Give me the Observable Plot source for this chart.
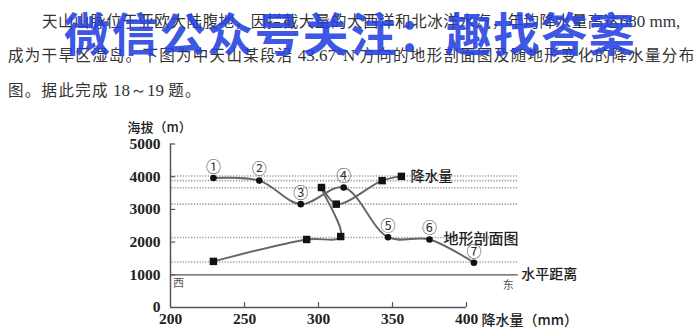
<!DOCTYPE html>
<html><head><meta charset="utf-8">
<script src="https://cdn.jsdelivr.net/npm/d3@7"></script>
<script src="https://cdn.jsdelivr.net/npm/@observablehq/plot@0.6"></script>
<style>
body{margin:0;background:#fff;width:700px;height:329px;overflow:hidden}
#text{position:relative;height:110px;font-family:"Noto Sans CJK SC";color:#333}
.ln{position:absolute;font-size:15.5px;letter-spacing:1.3px;white-space:nowrap;line-height:20px}
.lat{font-family:"Liberation Serif";font-size:17px;letter-spacing:0}
#wm{position:absolute;left:64px;top:4px;font-size:46px;font-weight:700;color:rgba(35,65,225,0.9);letter-spacing:1.7px;white-space:nowrap;line-height:54px}
#chart{height:219px}
</style></head><body>
<div id="text">
 <div class="ln" style="left:42px;top:10px;letter-spacing:0.55px">天山山脉位于亚欧大陆腹地，因拦截大量的大西洋和北冰洋水汽，年均降水量高达<span class="lat">680 mm,</span></div>
 <div class="ln" style="left:8px;top:44px">成为干旱区湿岛。下图为中天山某段沿<span class="lat"> 43.67°N </span>方向的地形剖面图及随地形变化的降水量分布</div>
 <div class="ln" style="left:8px;top:79px">图。据此完成<span class="lat"> 18～19 </span>题。</div>
 <div id="wm">微信公众号关注：趣找答案</div>
</div>
<div id="chart"></div>
<script>
// Terrain profile (circles) – x in the shared horizontal scale, elevation in m
const terrainLabels = ["①","②","③","④","⑤","⑥","⑦"];
const terrainX = [229, 260, 288, 317, 347, 375, 405];
const terrainElev = [3960, 3880, 3160, 3670, 2150, 2080, 1370];
// Precipitation (squares) – mm vs elevation
const precipMm = [229, 292, 315, 302, 312, 343, 356];
const precipElev = [1410, 2080, 2170, 3670, 3160, 3880, 4010];
// dotted reference elevations
const refElev = [4020, 3880, 3660, 3160, 2140, 1390];
const xTicks = [200, 250, 300, 350, 400];
const yTicks = [0, 1000, 2000, 3000, 4000, 5000];
const yTitle = ["海拔（m）"];
const xTitle = ["降水量（mm）"];
const precipName = ["降水量"];
const terrainName = ["地形剖面图"];
const distName = ["水平距离"];
const west = ["西"], east = ["东"];

const terrain = terrainX.map((x, i) => ({x, y: terrainElev[i], label: terrainLabels[i]}));
const precip = precipMm.map((x, i) => ({x, y: precipElev[i]}));
const cn = "Noto Sans CJK SC";
const ink = "#222", gray = "#666";

const chart = Plot.plot({
  width: 700, height: 219,
  marginLeft: 170, marginRight: 234, marginTop: 33.5, marginBottom: 22,
  x: {domain: [200, 400]},
  y: {domain: [0, 5000]},
  style: {fontFamily: "Liberation Serif", fontSize: "15px", color: ink, background: "white"},
  marks: [
    Plot.ruleY(refElev, {y: d => d, x1: 201, x2: 435, stroke: "#9a9a9a", strokeWidth: 1.6, strokeDasharray: "1.2,1.6"}),
    Plot.ruleY([1000], {y: d => d, x1: 200, x2: 435, stroke: "#555", strokeWidth: 1.3}),
    Plot.ruleY([0], {y: d => d, x1: 200, x2: 400, stroke: "#555", strokeWidth: 1.5}),
    Plot.ruleX([200], {x: d => d, y1: 0, y2: 5000, stroke: "#555", strokeWidth: 1.5}),
    Plot.ruleX(xTicks.slice(1), {x: d => d, y1: 0, y2: 150, stroke: "#555", strokeWidth: 1.2}),
    Plot.ruleY(yTicks.slice(1), {y: d => d, x1: 200, x2: 203.5, stroke: "#555", strokeWidth: 1.2}),
    Plot.axisX({ticks: xTicks, tickFormat: d3.format("d"), tickSize: 0, tickPadding: 5, label: null, fontWeight: "bold", fontSize: 15.5, fill: ink}),
    Plot.axisY({ticks: yTicks, tickFormat: d3.format("d"), tickSize: 0, tickPadding: 10, label: null, fontWeight: "bold", fontSize: 15.5, fill: ink}),
    Plot.line(terrain, {x: "x", y: "y", curve: "catmull-rom", stroke: gray, strokeWidth: 1.9}),
    Plot.line(precip, {x: "x", y: "y", curve: "catmull-rom", stroke: gray, strokeWidth: 1.9}),
    Plot.dot(terrain, {x: "x", y: "y", r: 3.3, fill: "#111", stroke: null}),
    Plot.dot(precip, {x: "x", y: "y", symbol: "square", r: 4.2, fill: "#111", stroke: null}),
    Plot.text(terrain, {x: "x", y: "y", text: "label", dy: -11, fontSize: 15, fontFamily: cn, fill: "#333"}),
    Plot.text(precipName, {x: precipMm[6], y: precipElev[6], text: d => d, dx: 9, textAnchor: "start", fontSize: 14, fontWeight: 500, fontFamily: cn, fill: ink}),
    Plot.text(terrainName, {x: terrainX[5], y: terrainElev[5], text: d => d, dx: 14, textAnchor: "start", fontSize: 15, fontWeight: 500, fontFamily: cn, fill: ink}),
    Plot.text(distName, {x: 435, y: 1000, text: d => d, dx: 3, textAnchor: "start", fontSize: 14, fontWeight: 500, fontFamily: cn, fill: ink}),
    Plot.text(west, {x: 200, y: 1000, text: d => d, dx: 8, dy: 9, fontSize: 11, fontFamily: cn, fill: "#555"}),
    Plot.text(east, {x: 435, y: 1000, text: d => d, dx: -10, dy: 11, fontSize: 11, fontFamily: cn, fill: "#555"}),
    Plot.text(xTitle, {x: 400, y: 0, text: d => d, dx: 15, dy: 13, textAnchor: "start", fontSize: 14, fontWeight: 500, fontFamily: cn, fill: ink}),
    Plot.text(yTitle, {x: 200, y: 5000, text: d => d, dx: -43, dy: -16.5, textAnchor: "start", fontSize: 13, fontWeight: 500, fontFamily: cn, fill: ink})
  ]
});
document.getElementById("chart").appendChild(chart);
</script>
</body></html>
